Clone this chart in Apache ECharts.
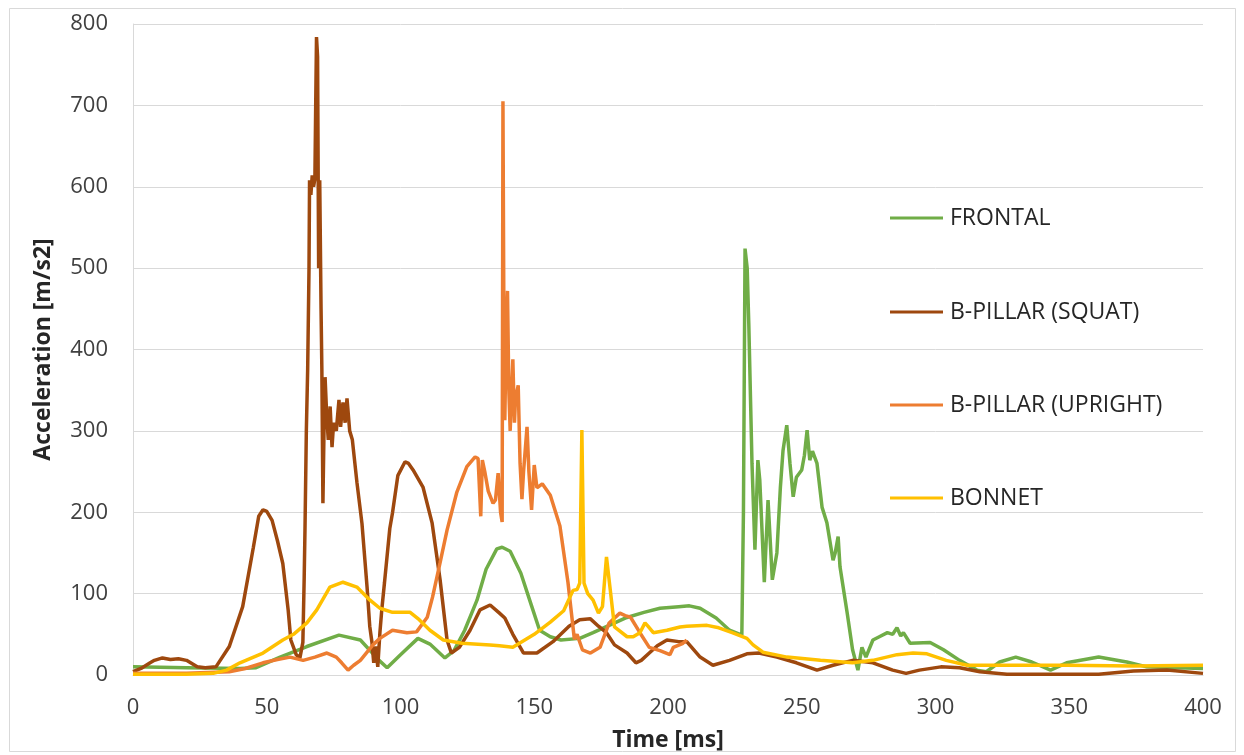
<!DOCTYPE html>
<html>
<head>
<meta charset="utf-8">
<script src="https://cdn.jsdelivr.net/npm/echarts@6/dist/echarts.min.js"></script>
<style>
html, body { margin: 0; padding: 0; background: #fff; }
#chart { width: 1244px; height: 755px; }
</style>
</head>
<body>
<div id="chart"></div>
<script>
// series names (legend order)
var seriesNames = ['FRONTAL', 'B-PILLAR (SQUAT)', 'B-PILLAR (UPRIGHT)', 'BONNET'];
var seriesColors = ['#70AD47', '#9E480E', '#ED7D31', '#FFC000'];

// [time ms, acceleration m/s2]
var frontal = [[0,10],[20,9],[40,8],[46,9],[55,22],[65,35],[77,49],[85,43],[92,18],[95,9],[100,25],[106.5,45],[111,38],[116.6,21],[120,30],[124,55],[128.6,92],[132,130],[136,155],[138,157],[141,152],[145,125],[149,85],[152,55],[156,47],[160,43],[167,45],[172,52],[178,61],[184,70],[191,77],[197,82],[204,84],[208,85],[212,82],[218,70],[223,55],[227.6,49],[228.2,200],[228.8,524],[229.6,500],[230.2,432],[231.4,260],[232.5,154],[233.6,264],[234.3,240],[236,114],[237.4,215],[239,117],[240.7,150],[242,230],[243,276],[244.4,307],[245.6,260],[246.8,219],[248,243],[250,252],[251,270],[252,301],[253,264],[254,275],[255.7,260],[257.6,206],[259.4,187],[261.7,141],[262.5,150],[263.6,170],[264.3,133],[267,76],[269,31],[271,6],[272.5,34],[274,22],[276.6,43],[279,47],[282,52],[284,50],[285.6,58],[287,48],[288,52],[290.5,39],[298,40],[303,31],[309,18],[315.5,6],[319,4],[324,16],[330,22],[336,16],[343,6],[349,15],[361,22],[371.5,16],[379,10],[390,9],[400,8]];

var squat = [[0,4],[3,8],[6.4,15],[8,18],[11,21],[14,19],[17,20],[20,18],[24,10],[27,9],[31,10],[36,35],[41,84],[45,157],[47,195],[48.6,203],[50,201],[52,190],[54,165],[56,137],[58,80],[59,43],[61,25],[62.4,21],[63.5,40],[64,120],[64.3,180],[64.8,300],[65.3,376],[65.8,500],[66,608],[66.5,590],[67,614],[67.5,600],[68,610],[68.3,700],[68.6,784],[69,760],[69.4,500],[69.8,608],[70.3,450],[70.6,376],[71,211],[71.4,300],[71.8,366],[72.4,320],[73,289],[73.7,330],[74.4,280],[75,310],[76,300],[77,338],[77.6,305],[78.5,335],[79.3,310],[80,340],[81,300],[82,289],[83.7,237],[85.6,186],[87.5,108],[88.5,60],[89.3,41],[90,15],[90.8,35],[91.5,10],[92.3,52],[93,80],[94,113],[96,180],[97,199],[99,245],[101.7,262],[103,260],[104.7,252],[108.4,231],[111.8,187],[114.8,117],[117.4,43],[119,27],[122,34],[126,55],[129.7,80],[133.5,86],[137,76],[139,70],[142,50],[146,27],[151,27],[157,41],[163,60],[167,68],[171,69],[174,60],[177,52],[180,37],[184.7,27],[188,15],[190,18],[193,27],[196,36],[199.6,43],[204,41],[207,41],[212,22],[216.8,12],[223,18],[229.5,26],[234,27],[240.7,22],[248,15],[255.7,6],[261.7,12],[269,18],[276.6,15],[284,6],[289,2],[294,6],[302,10],[309,9],[316.6,4],[326.7,1],[336,1],[361,1],[374,5],[386.5,6],[400,2]];

var upright = [[0,2],[20,2],[36,4],[42,8],[48.6,15],[54,19],[58.7,22],[63.6,18],[68,22],[72.5,27],[76,22],[78,15],[80.4,6],[82.5,12],[85,18],[89.7,37],[92.3,45],[97,55],[102.4,52],[106,53],[110,71],[112,96],[114.8,138],[117.4,178],[121,224],[124.8,256],[127.9,268],[129,266],[130,195],[130.6,264],[131.5,250],[132.8,226],[133.5,227],[134.6,211],[135.5,215],[136.5,248],[137.4,200],[138,188],[138.3,705],[138.7,400],[139,313],[139.5,420],[140,472],[140.5,350],[141,300],[142,388],[142.6,310],[143,340],[144,356],[144.7,260],[145.4,216],[146,250],[147.3,305],[148,250],[149,203],[150,258],[151,230],[153,235],[156,221],[159.6,183],[162.6,114],[165,44],[166,50],[168,31],[171,27],[174.6,34],[178,64],[182,76],[184,73],[186,71],[189.5,52],[193,34],[197,30],[200.7,25],[202,34],[205.6,39],[207,43]];

var bonnet = [[0,1],[20,1],[30,2],[35,6],[40,15],[48.6,27],[56,43],[60,50],[65,64],[68.7,80],[73.6,108],[78.5,114],[83.7,108],[88.6,92],[92.3,82],[97,77],[103.6,77],[107,68],[111,55],[116,43],[123,39],[133.5,37],[137,36],[142,34],[150,50],[156,65],[161,79],[164.5,104],[166,105],[167,113],[167.8,301],[168.6,113],[170,100],[172,92],[174,76],[175.5,84],[177,145],[178.3,108],[180,59],[184.7,47],[187,47],[189.5,52],[191.4,64],[192.5,60],[194.5,52],[199.6,55],[204.5,59],[207,60],[214.6,61],[219,58],[224,52],[229.5,45],[231.8,37],[235.5,28],[244.5,22],[257,18],[269,15],[276.6,18],[285.6,25],[291.6,27],[296.8,26],[304,18],[311.8,12],[324,12],[349,12],[374,11],[400,12]];

var allData = [frontal, squat, upright, bonnet];
var legendTops = [206, 300, 393, 486];

var myChart = echarts.init(document.getElementById('chart'));

var legends = [];
var series = [];
seriesNames.forEach(function (name, i) {
    legends.push({
        data: [name],
        left: 890,
        top: legendTops[i],
        padding: 0,
        icon: 'rect',
        itemWidth: 53,
        itemHeight: 3,
        selectedMode: false,
        textStyle: {
            fontFamily: 'Open Sans',
            fontSize: 23,
            color: '#262626',
            lineHeight: 24,
            padding: [0, 0, 0, 2]
        }
    });
    series.push({
        name: name,
        type: 'line',
        data: allData[i],
        showSymbol: false,
        symbol: 'none',
        smooth: false,
        lineStyle: { width: 3.5, color: seriesColors[i] },
        itemStyle: { color: seriesColors[i] },
        emphasis: { disabled: true }
    });
});

var option = {
    animation: false,
    backgroundColor: '#fff',
    graphic: [{
        type: 'rect',
        shape: { x: 9.5, y: 8.5, width: 1226, height: 743 },
        style: { fill: 'none', stroke: '#D9D9D9', lineWidth: 1 },
        silent: true
    }],
    grid: { left: 133, right: 41, top: 24, bottom: 80, outerBoundsMode: 'none' },
    legend: legends,
    xAxis: {
        type: 'value',
        min: 0,
        max: 400,
        interval: 50,
        name: 'Time [ms]',
        nameLocation: 'middle',
        nameGap: 54,
        nameTextStyle: { fontFamily: 'Open Sans', fontSize: 23, fontWeight: 'bold', color: '#262626' },
        axisLine: { show: true, lineStyle: { color: '#D9D9D9', width: 1 } },
        axisTick: { show: false },
        splitLine: { show: false },
        axisLabel: { fontFamily: 'Open Sans', fontSize: 22, color: '#404040', margin: 22 }
    },
    yAxis: {
        type: 'value',
        min: 0,
        max: 800,
        interval: 100,
        name: 'Acceleration [m/s2]',
        nameLocation: 'middle',
        nameGap: 78,
        nameTextStyle: { fontFamily: 'Open Sans', fontSize: 23, fontWeight: 'bold', color: '#262626' },
        axisLine: { show: true, lineStyle: { color: '#D9D9D9', width: 1 } },
        axisTick: { show: false },
        splitLine: { show: true, lineStyle: { color: '#D9D9D9', width: 1 } },
        axisLabel: { fontFamily: 'Open Sans', fontSize: 22, color: '#404040', margin: 25 }
    },
    series: series
};
myChart.setOption(option);
</script>
</body>
</html>
